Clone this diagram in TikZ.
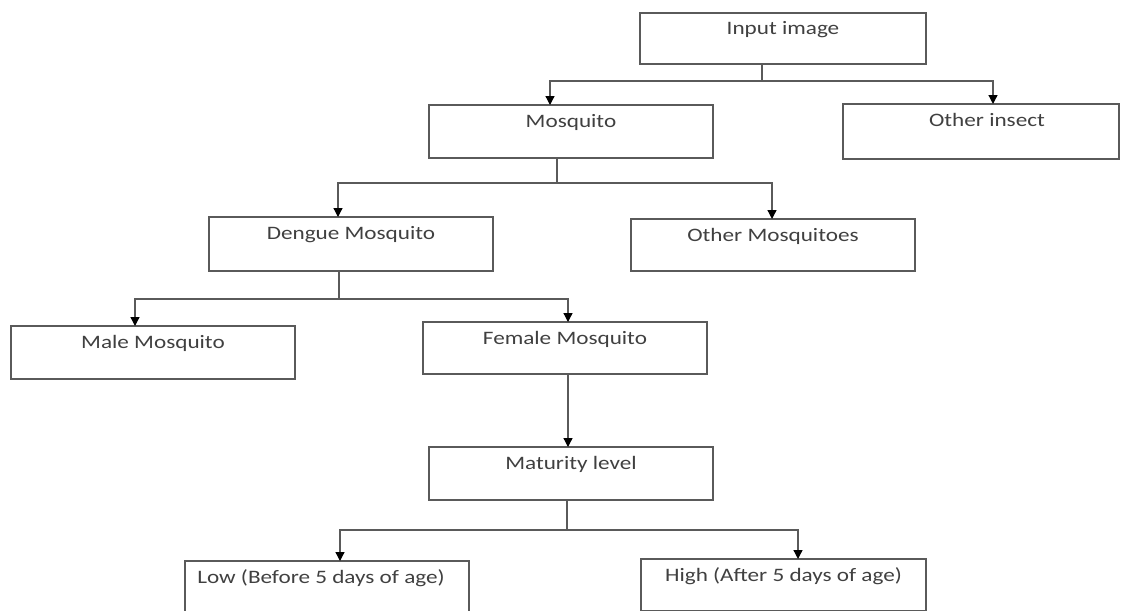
\documentclass[tikz,border=0pt]{standalone}
\usepackage{fontspec}
\newfontfamily\boxfont{Carlito}[FakeStretch=1.22]
\usetikzlibrary{arrows.meta}
\definecolor{linegray}{HTML}{5A5A5A}
\definecolor{txtgray}{HTML}{404040}
\tikzset{
  box/.style={draw=linegray, line width=1.3pt, rectangle, inner sep=0pt, outer sep=0pt, fill=white},
  lbl/.style={anchor=base, inner sep=0pt, text=txtgray, font=\boxfont\fontsize{19}{22}\selectfont},
  conn/.style={draw=linegray, line width=1.3pt},
  arr/.style={conn, -{Triangle[length=9pt,width=9pt,fill=black,color=black]}}
}
\begin{document}
\begin{tikzpicture}[x=1pt,y=-1pt]
\useasboundingbox (0,0) rectangle (1121,610);
\clip (0,0) rectangle (1121,610);
\fill[white] (0,0) rectangle (1121,610);
% boxes
\node[box, minimum width=286pt, minimum height=51pt] (in) at (783,38.5) {};
\node[box, minimum width=284pt, minimum height=53pt] (mos) at (571,131.5) {};
\node[box, minimum width=276pt, minimum height=55pt] (oth) at (981,131.5) {};
\node[box, minimum width=284pt, minimum height=54pt] (den) at (351,244) {};
\node[box, minimum width=284pt, minimum height=52pt] (omq) at (773,245) {};
\node[box, minimum width=284pt, minimum height=53pt] (male) at (153,352.5) {};
\node[box, minimum width=284pt, minimum height=52pt] (fem) at (565,348) {};
\node[box, minimum width=284pt, minimum height=53pt] (mat) at (571,473.5) {};
\node[box, minimum width=284pt, minimum height=52pt] (low) at (327,587) {};
\node[box, minimum width=285pt, minimum height=52pt] (high) at (783.5,585) {};
% labels
\node[lbl] (tin) at ([yshift=-22pt]in.north) {Input image};
\node[lbl] (tmos) at ([yshift=-22pt]mos.north) {Mosquito};
\node[lbl] (toth) at ([yshift=-22pt,xshift=6pt]oth.north) {Other insect};
\node[lbl] (tden) at ([yshift=-22pt]den.north) {Dengue Mosquito};
\node[lbl] (tomq) at ([yshift=-22pt]omq.north) {Other Mosquitoes};
\node[lbl] (tmale) at ([yshift=-22pt]male.north) {Male Mosquito};
\node[lbl] (tfem) at ([yshift=-22pt]fem.north) {Female Mosquito};
\node[lbl] (tmat) at ([yshift=-22pt]mat.north) {Maturity level};
\node[lbl] (tlow) at ([yshift=-22pt,xshift=-6pt]low.north) {Low (Before 5 days of age)};
\node[lbl] (thigh) at ([yshift=-22pt]high.north) {High (After 5 days of age)};
% junctions
\coordinate (j1) at (762,81);
\coordinate (j2) at (557,183);
\coordinate (j3) at (339,299);
\coordinate (j4) at (567,530);
% connectors
\draw[conn] ([xshift=-21pt]in.south) -- (j1);
\draw[arr] (j1) -| ([xshift=-21pt]mos.north);
\draw[arr] (j1) -| ([xshift=12pt]oth.north);
\draw[conn] ([xshift=-14pt]mos.south) -- (j2);
\draw[arr] (j2) -| ([xshift=-13pt]den.north);
\draw[arr] (j2) -| ([xshift=-1pt]omq.north);
\draw[conn] ([xshift=-12pt]den.south) -- (j3);
\draw[arr] (j3) -| ([xshift=-18pt]male.north);
\draw[arr] (j3) -| ([xshift=3pt]fem.north);
\draw[arr] ([xshift=3pt]fem.south) -- ([xshift=-3pt]mat.north);
\draw[conn] ([xshift=-4pt]mat.south) -- (j4);
\draw[arr] (j4) -| ([xshift=13pt]low.north);
\draw[arr] (j4) -| ([xshift=14.5pt]high.north);
\end{tikzpicture}
\end{document}
